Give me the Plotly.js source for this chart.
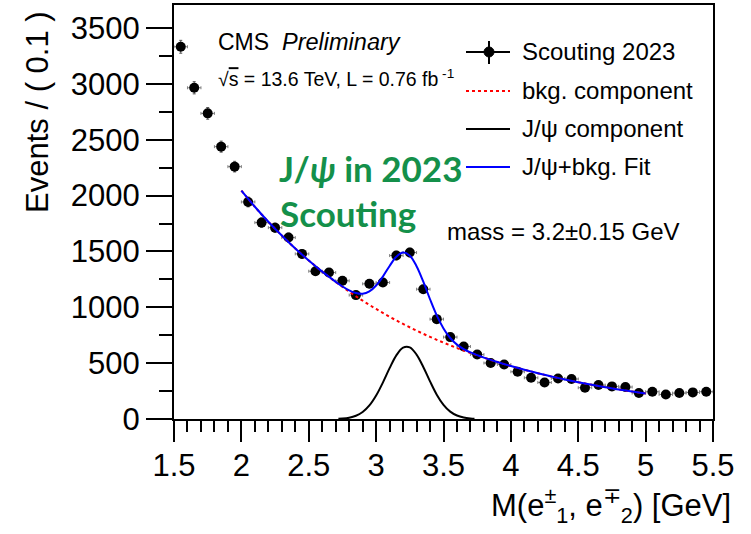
<!DOCTYPE html>
<html>
<head>
<meta charset="utf-8">
<script src="https://cdn.plot.ly/plotly-3.0.1.min.js"></script>
<style>html,body{margin:0;padding:0;background:#fff;}#plot{width:751px;height:534px;}</style>
</head>
<body>
<div id="plot"></div>
<script>
// ---- data ----
const binCenters = [1.55,1.65,1.75,1.85,1.95,2.05,2.15,2.25,2.35,2.45,
                    2.55,2.65,2.75,2.85,2.95,3.05,3.15,3.25,3.35,3.45,
                    3.55,3.65,3.75,3.85,3.95,4.05,4.15,4.25,4.35,4.45,
                    4.55,4.65,4.75,4.85,4.95,5.05,5.15,5.25,5.35,5.45];
const events = [3332,2965,2736,2438,2259,1943,1758,1713,1624,1478,
                1323,1311,1237,1109,1210,1222,1463,1490,1162,894,
                733,649,577,501,488,423,369,327,363,358,
                280,304,292,286,232,244,220,232,238,244];
const bkgX = [2.0,2.1,2.2,2.3,2.4,2.5,2.6,2.7,2.8,2.9,3.0,3.1,3.2,3.3,3.4,3.5,3.6,3.7,3.8,3.9,
              4.0,4.1,4.2,4.3,4.4,4.5,4.6,4.7,4.8,4.9,5.0];
const bkgY = [2044,1900,1766,1642,1526,1419,1319,1226,1140,1059,985,915,851,791,735,684,635,591,549,510,
              474,441,410,381,354,329,306,285,264,246,228];
const sigX = [2.72,2.75,2.80,2.85,2.90,2.95,3.00,3.05,3.10,3.15,3.20,3.25,3.30,3.35,3.40,3.45,3.50,3.55,3.60,3.65,3.70,3.73];
const sigY = [2.5,4.4,11.9,28.7,62,121,210,326,455,570,639,641,577,466,337,218,127,66,31,13,4.8,2.8];
const fitX = [2.0,2.1,2.2,2.3,2.4,2.5,2.6,2.65,2.7,2.75,2.8,2.85,2.9,2.95,3.0,3.05,3.1,3.15,3.2,3.25,3.3,3.35,3.4,3.45,3.5,3.55,3.6,3.65,3.7,3.75,3.8,3.9,
              4.0,4.1,4.2,4.3,4.4,4.5,4.6,4.7,4.8,4.9,5.0];
const fitY = [2044,1900,1766,1642,1526,1419,1319,1273,1228,1186,1152,1128,1121,1142,1195,1275,1370,1453,1490,1462,1368,1229,1072,927,811,725,666,626,596,572,549,510,
              474,441,410,381,354,329,306,285,264,246,228];
const xTitle = 'M(e<sup>±</sup><sub>1</sub>, e<sup>∓</sup><sub>2</sub>) [GeV]';
const yTitle = 'Events / ( 0.1 )';
const legendLabels = ['Scouting 2023','bkg. component','J/ψ component','J/ψ+bkg. Fit'];

// ---- layout helpers (pixel -> paper) ----
const L = 174, R = 713, T = 5, B = 419.3;
const px = v => (v - L) / (R - L);
const py = v => (B - v) / (B - T);
const FONT = 'Liberation Sans, Arial, Helvetica, sans-serif';

const traces = [
  {x: binCenters, y: events, type: 'scatter', mode: 'markers', showlegend: false,
   marker: {color: 'black', size: 10},
   error_x: {type: 'constant', value: 0.05, color: '#808080', thickness: 1, width: 1.5},
   error_y: {type: 'sqrt', color: '#555', thickness: 1, width: 1.5}},
  {x: bkgX, y: bkgY, type: 'scatter', mode: 'lines', showlegend: false,
   line: {color: '#ff0000', width: 2, dash: 'dot', shape: 'spline'}},
  {x: sigX, y: sigY, type: 'scatter', mode: 'lines', showlegend: false,
   line: {color: 'black', width: 2, shape: 'spline'}},
  {x: fitX, y: fitY, type: 'scatter', mode: 'lines', showlegend: false,
   line: {color: '#0000ff', width: 2, shape: 'spline'}}
];

const legY = [52, 91, 129, 167];
const shapes = [
  {type:'line', xref:'paper', yref:'paper', x0:px(466), x1:px(510), y0:py(legY[0]), y1:py(legY[0]), line:{color:'black', width:2}},
  {type:'line', xref:'paper', yref:'paper', x0:px(489), x1:px(489), y0:py(41), y1:py(64), line:{color:'black', width:2}},
  {type:'circle', xref:'paper', yref:'paper', x0:px(484), x1:px(494), y0:py(legY[0]-5), y1:py(legY[0]+5), fillcolor:'black', line:{color:'black', width:1}},
  {type:'line', xref:'paper', yref:'paper', x0:px(466), x1:px(510), y0:py(legY[1]), y1:py(legY[1]), line:{color:'#ff0000', width:2, dash:'dot'}},
  {type:'line', xref:'paper', yref:'paper', x0:px(466), x1:px(510), y0:py(legY[2]), y1:py(legY[2]), line:{color:'black', width:2}},
  {type:'line', xref:'paper', yref:'paper', x0:px(466), x1:px(510), y0:py(legY[3]), y1:py(legY[3]), line:{color:'#0000ff', width:2}}
];

const ann = (text, x, y, size, opts) => Object.assign({
  text: text, xref:'paper', yref:'paper', x: px(x), y: py(y), xanchor:'left', yanchor:'middle',
  showarrow:false, font:{family: FONT, size: size, color:'black'}}, opts || {});

const GREEN = {family:'Lato, "Noto Sans", sans-serif', size:35, color:'#14904a', weight:'bold'};
const annotations = [
  ann('CMS', 215.7, 42, 23),
  ann('<i>Preliminary</i>', 280, 42, 23.5),
  ann('√<span style="text-decoration:overline">s</span> = 13.6 TeV, L = 0.76 fb<sup> -1</sup>', 216, 78, 19.5),
  ann(legendLabels[0], 520, legY[0], 24),
  ann(legendLabels[1], 520, legY[1], 24),
  ann(legendLabels[2], 520, legY[2], 24),
  ann(legendLabels[3], 520, legY[3], 24),
  ann('mass = 3.2±0.15 GeV', 445, 232, 24),
  ann('J/<i>ψ</i> in 2023', 277, 168, 35, {font: GREEN}),
  ann('Scouting', 278, 213, 35, {font: GREEN}),
  ann(yTitle, 38, 112, 31, {xanchor:'center', textangle:-90}),
  ann(xTitle, 733, 506, 31, {xanchor:'right'})
];

const layout = {
  width: 751, height: 534,
  margin: {l: L, r: 751 - R, t: T, b: 534 - B, autoexpand: false},
  paper_bgcolor: 'white', plot_bgcolor: 'white',
  showlegend: false,
  font: {family: FONT, color: 'black', size: 14},
  xaxis: {range: [1.5, 5.5], dtick: 0.5, tick0: 1.5, showgrid: false, zeroline: false,
          showline: true, linecolor: 'black', linewidth: 2, mirror: true,
          ticks: 'outside', ticklen: 21, tickwidth: 2, tickcolor: 'black', ticklabelstandoff: -3,
          tickfont: {family: FONT, size: 31, color: 'black'},
          minor: {dtick: 0.1, ticks: 'outside', ticklen: 11, tickwidth: 2, tickcolor: 'black', showgrid: false}},
  yaxis: {range: [0, 3706], dtick: 500, showgrid: false, zeroline: false,
          showline: true, linecolor: 'black', linewidth: 2, mirror: true,
          ticks: 'outside', ticklen: 26, tickwidth: 2, tickcolor: 'black',
          tickfont: {family: FONT, size: 31, color: 'black'},
          minor: {dtick: 250, ticks: 'outside', ticklen: 13, tickwidth: 2, tickcolor: 'black', showgrid: false}},
  shapes: shapes,
  annotations: annotations
};

Plotly.newPlot('plot', traces, layout, {displayModeBar: false, staticPlot: true});
</script>
</body>
</html>
